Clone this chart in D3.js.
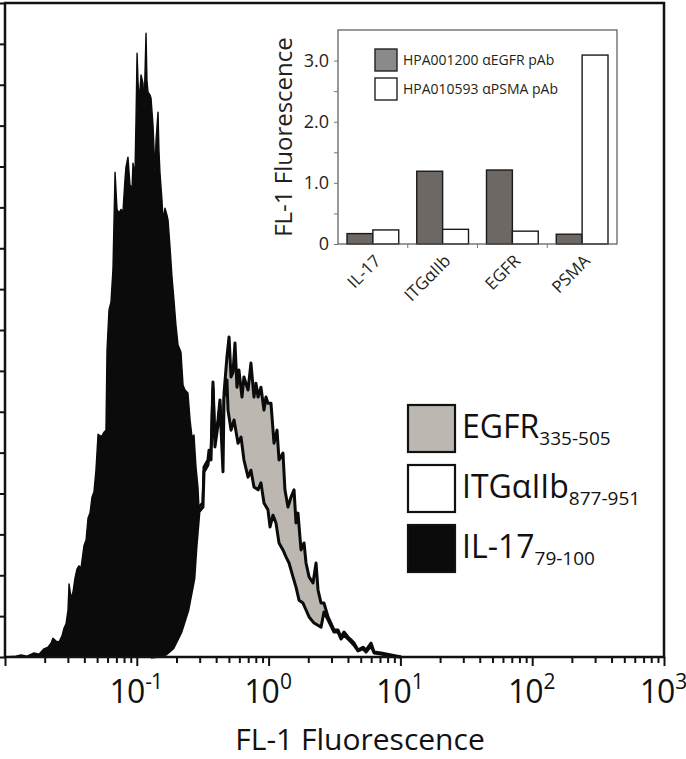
<!DOCTYPE html>
<html>
<head>
<meta charset="utf-8">
<script src="https://cdn.jsdelivr.net/npm/d3@7"></script>
<style>
  body { margin: 0; background: #fff; }
  svg { display: block; font-family: "Open Sans", sans-serif; }
</style>
</head>
<body>
<div id="chart"></div>
<script>
/* Flow histograms: [log10 FL-1, events] */
var il17Hist = [
  [-2.000, 0], [-1.917, 0.2], [-1.879, 0.5], [-1.833, 0.2], [-1.780, 1.0], [-1.742, 0.7],
  [-1.704, 2.0], [-1.674, 2.4], [-1.651, 3.4], [-1.636, 4.6], [-1.613, 3.9], [-1.590, 3.7],
  [-1.568, 5.1], [-1.552, 7.1], [-1.537, 8.1], [-1.522, 11.5], [-1.514, 17.9], [-1.499, 14.4],
  [-1.484, 15.9], [-1.469, 19.3], [-1.454, 21.5], [-1.439, 22.3], [-1.423, 21.8], [-1.401, 27.2],
  [-1.385, 28.6], [-1.370, 34.0], [-1.355, 35.2], [-1.340, 39.1], [-1.325, 40.4], [-1.310, 45.7],
  [-1.294, 54.5], [-1.279, 54.1], [-1.264, 54.1], [-1.249, 55.0], [-1.234, 55.5], [-1.226, 75.1],
  [-1.211, 84.9], [-1.196, 86.8], [-1.181, 94.7], [-1.165, 118.6], [-1.150, 109.5], [-1.135, 108.6],
  [-1.120, 109.5], [-1.105, 108.9], [-1.090, 116.7], [-1.082, 119.9], [-1.067, 122.3], [-1.052, 115.5],
  [-1.036, 114.7], [-1.029, 120.8], [-1.014, 117.9], [-1.006, 131.4], [-0.998, 147.7], [-0.991, 141.1],
  [-0.983, 136.3], [-0.976, 138.7], [-0.968, 142.4], [-0.953, 140.4], [-0.945, 133.8], [-0.930, 152.6],
  [-0.923, 141.1], [-0.915, 138.2], [-0.900, 137.5], [-0.892, 136.7], [-0.877, 130.1], [-0.869, 124.0],
  [-0.862, 118.4], [-0.854, 126.5], [-0.839, 133.3], [-0.832, 124.0], [-0.824, 118.4], [-0.809, 111.8],
  [-0.801, 106.9], [-0.786, 109.8], [-0.771, 108.1], [-0.763, 106.9], [-0.748, 100.3], [-0.733, 93.0],
  [-0.718, 87.3], [-0.703, 81.2], [-0.687, 76.3], [-0.665, 74.6], [-0.649, 66.5], [-0.634, 65.3],
  [-0.612, 64.6], [-0.596, 58.0], [-0.581, 53.8], [-0.566, 54.3], [-0.551, 46.5], [-0.536, 41.6],
  [-0.520, 31.1], [-0.498, 21.3], [-0.467, 13.9], [-0.422, 7.8], [-0.361, 2.9], [-0.285, 1.0],
  [-0.209, 0]
];
var egfrHist = [
  [-0.892, 0], [-0.816, 0.5], [-0.778, 1.0], [-0.725, 2.4], [-0.665, 6.6], [-0.612, 12.2],
  [-0.566, 20.1], [-0.551, 27.9], [-0.528, 36.7], [-0.498, 37.7], [-0.490, 46.5], [-0.460, 48.2],
  [-0.452, 50.6], [-0.437, 49.4], [-0.422, 67.3], [-0.407, 52.3], [-0.384, 58.0], [-0.369, 62.9],
  [-0.346, 45.7], [-0.338, 64.6], [-0.316, 73.4], [-0.300, 78.3], [-0.285, 68.5], [-0.270, 69.7],
  [-0.255, 76.8], [-0.240, 66.0], [-0.225, 70.2], [-0.202, 63.6], [-0.187, 68.5], [-0.156, 65.3],
  [-0.134, 71.9], [-0.111, 63.6], [-0.096, 67.0], [-0.080, 63.6], [-0.058, 66.0], [-0.035, 60.4],
  [-0.020, 63.6], [-0.005, 62.1], [0.018, 62.1], [0.041, 52.3], [0.064, 55.5], [0.079, 48.2],
  [0.109, 49.9], [0.124, 40.9], [0.147, 36.7], [0.170, 39.1], [0.193, 40.9], [0.208, 32.8],
  [0.223, 35.2], [0.246, 26.2], [0.269, 27.9], [0.284, 23.0], [0.307, 19.6], [0.337, 18.1],
  [0.360, 23.0], [0.375, 16.4], [0.398, 13.2], [0.420, 13.2], [0.451, 9.8], [0.473, 8.3],
  [0.496, 6.6], [0.527, 6.6], [0.549, 4.9], [0.572, 6.1], [0.602, 4.9], [0.625, 4.2],
  [0.648, 3.4], [0.678, 1.7], [0.716, 2.4], [0.739, 1.7], [0.777, 3.4], [0.800, 1.2],
  [0.853, 1.0], [0.929, 0.5], [1.005, 0]
];
var itgHist = [
  [-0.892, 0], [-0.816, 0.2], [-0.778, 0.7], [-0.725, 2.2], [-0.665, 6.1], [-0.612, 11.5],
  [-0.566, 19.3], [-0.551, 26.7], [-0.528, 35.5], [-0.498, 36.7], [-0.490, 45.3], [-0.460, 47.0],
  [-0.452, 49.4], [-0.437, 48.2], [-0.422, 65.8], [-0.407, 51.4], [-0.384, 56.8], [-0.369, 61.6],
  [-0.346, 45.3], [-0.338, 63.4], [-0.316, 67.8], [-0.308, 60.4], [-0.285, 55.5], [-0.262, 58.0],
  [-0.232, 52.3], [-0.209, 53.8], [-0.187, 48.2], [-0.156, 44.0], [-0.134, 45.7], [-0.111, 41.6],
  [-0.080, 40.9], [-0.058, 42.6], [-0.035, 37.7], [-0.005, 36.0], [0.011, 31.8], [0.033, 34.7],
  [0.056, 32.8], [0.079, 27.9], [0.109, 26.2], [0.132, 24.5], [0.155, 23.0], [0.185, 19.6],
  [0.208, 17.1], [0.231, 13.9], [0.261, 13.2], [0.284, 11.5], [0.307, 9.8], [0.345, 8.3],
  [0.398, 7.3], [0.420, 11.0], [0.451, 9.1], [0.473, 7.6], [0.496, 6.1], [0.527, 6.1],
  [0.549, 4.4], [0.572, 5.4], [0.602, 4.4], [0.625, 3.7], [0.648, 2.9], [0.678, 1.5],
  [0.716, 2.0], [0.739, 1.2], [0.777, 2.7], [0.800, 1.0], [0.853, 0.7], [0.929, 0.2],
  [1.005, 0]
];

/* Main legend */
var legendNames = ["EGFR", "ITGαIIb", "IL-17"];
var legendSubs = ["335-505", "877-951", "79-100"];
var legendFills = ["#bcb8b1", "#ffffff", "#0b0b0b"];

/* x axis decade labels (exponents) */
var decadeExps = [-1, 0, 1, 2, 3];

/* Inset bar chart */
var barCategories = ["IL-17", "ITGαIIb", "EGFR", "PSMA"];
var barSeries = ["HPA001200 αEGFR pAb", "HPA010593 αPSMA pAb"];
var egfrPabValues = [0.17, 1.19, 1.21, 0.16];
var psmaPabValues = [0.23, 0.24, 0.21, 3.09];
var insetTicks = [0, 0.5, 1, 1.5, 2, 2.5, 3];

var width = 686, height = 759;
var ink = "#111";

var svg = d3.select("#chart").append("svg")
    .attr("width", width)
    .attr("height", height);

var x = d3.scaleLog().domain([0.01, 1000]).range([5, 664]);
var y = d3.scaleLinear().domain([0, 160]).range([657, 3]);

// histograms: IL-17 under, then EGFR, then ITG on top
var area = d3.area()
    .x(function (d) { return x(Math.pow(10, d[0])); })
    .y0(y(0))
    .y1(function (d) { return y(d[1]); });
var line = d3.line()
    .x(function (d) { return x(Math.pow(10, d[0])); })
    .y(function (d) { return y(d[1]); });

var hists = [
    { data: il17Hist, fill: "#0b0b0b", sw: 1.4 },
    { data: egfrHist, fill: "#bcb8b1", sw: 3 },
    { data: itgHist, fill: "#ffffff", sw: 3 }
];
var hg = svg.append("g");
hists.forEach(function (h) {
    hg.append("path").attr("d", area(h.data)).attr("fill", h.fill);
    hg.append("path").attr("d", line(h.data))
        .attr("fill", "none")
        .attr("stroke", "#0b0b0b")
        .attr("stroke-width", h.sw)
        .attr("stroke-linejoin", "round");
});

// frame
svg.append("path")
    .attr("d", "M" + x.range()[0] + "," + y(0) + "V" + y(160) + "H" + x.range()[1] + "V" + y(0) + "Z")
    .attr("fill", "none")
    .attr("stroke", ink)
    .attr("stroke-width", 2.5);

// y ticks (no labels)
var yAxis = svg.append("g")
    .attr("transform", "translate(" + x.range()[0] + ",0)")
    .call(d3.axisLeft(y).tickValues(d3.range(0, 161, 10)).tickSize(5).tickFormat(""));
yAxis.select(".domain").remove();
yAxis.selectAll("line").attr("stroke", ink).attr("stroke-width", 2);

// x ticks: minor and major
var minorVals = [];
[-2, -1, 0, 1, 2].forEach(function (e) {
    for (var k = 2; k <= 9; k++) minorVals.push(k * Math.pow(10, e));
});
var xMinor = svg.append("g")
    .attr("transform", "translate(0," + y(0) + ")")
    .call(d3.axisBottom(x).tickValues(minorVals).tickSize(6).tickFormat(""));
var xMajor = svg.append("g")
    .attr("transform", "translate(0," + y(0) + ")")
    .call(d3.axisBottom(x).tickValues([0.01, 0.1, 1, 10, 100, 1000]).tickSize(9).tickFormat(""));
[xMinor, xMajor].forEach(function (g) {
    g.select(".domain").remove();
    g.selectAll("line").attr("stroke", ink).attr("stroke-width", 2);
});

svg.selectAll(".xlab").data(decadeExps).enter().append("text")
    .attr("class", "xlab")
    .attr("x", function (d) { return x(Math.pow(10, d)) - 1; })
    .attr("y", 703)
    .attr("text-anchor", "middle")
    .attr("fill", ink)
    .style("font-size", "32px")
    .style("letter-spacing", "-1px")
    .each(function (d) {
        var t = d3.select(this);
        t.append("tspan").text("10");
        t.append("tspan").attr("dy", -14).attr("dx", 1).style("font-size", "21px").text(d);
    });

svg.append("text")
    .attr("x", 360)
    .attr("y", 750)
    .attr("text-anchor", "middle")
    .attr("fill", ink)
    .style("font-size", "30px")
    .text("FL-1 Fluorescence");

// legend
var leg = svg.append("g");
legendNames.forEach(function (name, i) {
    var top = 405 + i * 60;
    leg.append("rect")
        .attr("x", 408).attr("y", top)
        .attr("width", 47).attr("height", 47)
        .attr("fill", legendFills[i])
        .attr("stroke", ink).attr("stroke-width", 2.2);
    var t = leg.append("text")
        .attr("x", 462).attr("y", top + 33)
        .attr("fill", ink)
        .style("font-size", "32px")
        .text(name);
    t.append("tspan").attr("dy", 7).style("font-size", "19px").text(legendSubs[i]);
});

/* ---- inset ---- */
var ix = d3.scaleBand().domain(barCategories).range([338, 617]);
var ix1 = d3.scaleBand().domain([0, 1]).range([9, ix.bandwidth() - 9]);
var iy = d3.scaleLinear().domain([0, 3.5]).range([244, 30]);
var barColors = ["#6e6865", "#ffffff"];
var seriesValues = [egfrPabValues, psmaPabValues];

var inset = svg.append("g");

seriesValues.forEach(function (vals, s) {
    inset.selectAll(".bar" + s).data(barCategories).enter().append("rect")
        .attr("x", function (c) { return ix(c) + ix1(s); })
        .attr("y", function (c, i) { return iy(vals[i]); })
        .attr("width", ix1.bandwidth())
        .attr("height", function (c, i) { return iy(0) - iy(vals[i]); })
        .attr("fill", barColors[s])
        .attr("stroke", "#1a1a1a")
        .attr("stroke-width", 1.4);
});

inset.append("rect")
    .attr("x", 338).attr("y", 30)
    .attr("width", 617 - 338).attr("height", 244 - 30)
    .attr("fill", "none")
    .attr("stroke", "#555")
    .attr("stroke-width", 1.2);

var iyAxis = inset.append("g")
    .attr("transform", "translate(338,0)")
    .call(d3.axisLeft(iy).tickValues(insetTicks).tickSize(4).tickPadding(5)
        .tickFormat(function (d) { return d % 1 !== 0 ? "" : (d === 0 ? "0" : d.toFixed(1)); }));
iyAxis.select(".domain").remove();
iyAxis.selectAll("line").attr("stroke", "#777");
iyAxis.selectAll("text")
    .attr("fill", "#231f20")
    .style("font-size", "18px")
    .style("font-family", "'Open Sans', sans-serif");

inset.selectAll(".xt").data(barCategories.slice(1)).enter().append("line")
    .attr("x1", function (c) { return ix(c); })
    .attr("x2", function (c) { return ix(c); })
    .attr("y1", 244).attr("y2", 248)
    .attr("stroke", "#777");

inset.selectAll(".clab").data(barCategories).enter().append("text")
    .attr("transform", function (c) {
        return "translate(" + (ix(c) + ix.bandwidth() / 2 + 9) + ",262) rotate(-45)";
    })
    .attr("text-anchor", "end")
    .attr("fill", "#231f20")
    .style("font-size", "17px")
    .text(function (c) { return c; });

inset.append("text")
    .attr("transform", "translate(292,137) rotate(-90)")
    .attr("text-anchor", "middle")
    .attr("fill", "#231f20")
    .style("font-size", "24px")
    .text("FL-1 Fluorescence");

var swatchFills = ["#8c8a89", "#ffffff"];
barSeries.forEach(function (name, i) {
    inset.append("rect")
        .attr("x", 375).attr("y", 49 + i * 29)
        .attr("width", 22).attr("height", 22)
        .attr("fill", swatchFills[i])
        .attr("stroke", "#222").attr("stroke-width", 1.4);
    inset.append("text")
        .attr("x", 403).attr("y", 65 + i * 29)
        .attr("fill", "#231f20")
        .style("font-size", "14px")
        .text(name);
});
</script>
</body>
</html>
